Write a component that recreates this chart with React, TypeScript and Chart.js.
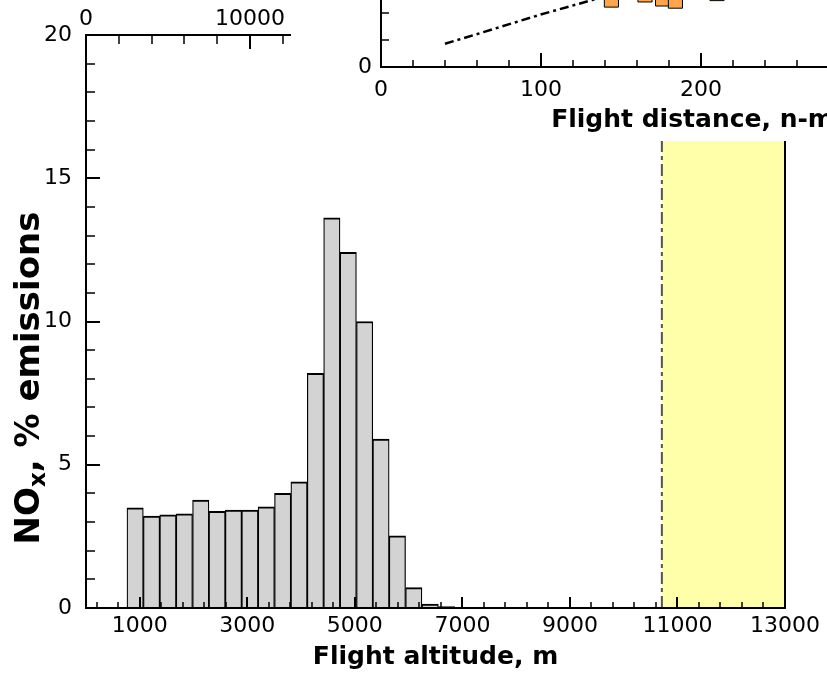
import React, { useEffect, useRef } from "react";
import { Chart, registerables } from "chart.js";
Chart.register(...registerables);

// ---------- main histogram data ----------
// bin centres in metres (1000-ft bins)
const binCentersM = [914, 1219, 1524, 1829, 2134, 2438, 2743, 3048, 3353, 3658, 3962, 4267, 4572, 4877, 5182, 5486, 5791, 6096, 6401, 6706];
const noxShare = [3.5, 3.21, 3.25, 3.29, 3.77, 3.37, 3.42, 3.42, 3.53, 4.0, 4.4, 8.19, 13.62, 12.41, 10.0, 5.9, 2.52, 0.71, 0.14, 0.05];
const cruiseBand = [10710, 13000];
const cruiseTop = 20;

// axis ticks (main)
const xMajor = [1000, 3000, 5000, 7000, 9000, 11000, 13000];
const xMinor = [200, 600, 1400, 1800, 2200, 2600, 3400, 3800, 4200, 4600, 5400, 5800, 6200, 6600, 7400, 7800, 8200, 8600, 9400, 9800, 10200, 10600, 11400, 11800, 12200, 12600];
const yMajor = [0, 5, 10, 15, 20];
const yMinor = [1, 2, 3, 4, 6, 7, 8, 9, 11, 12, 13, 14, 16, 17, 18, 19];
const topMajorFt = [0, 10000, 20000, 30000, 40000];
const topMinorFt = [2000, 4000, 6000, 8000, 12000, 14000, 16000, 18000, 22000, 24000, 26000, 28000, 32000, 34000, 36000, 38000, 42000];

// ---------- inset data ----------
const distLineX = [40, 64, 99, 132, 165];
const distLineY = [0.86, 1.29, 1.93, 2.48, 3.0];
const squaresX = [144, 165, 176, 184, 210];
const squaresY = [2.48, 2.67, 2.52, 2.44, 2.72];
const insetXMajor = [0, 100, 200, 300, 400];
const insetXMinor = [20, 40, 60, 80, 120, 140, 160, 180, 220, 240, 260, 280, 320, 340, 360, 380];
const insetYMajor = [0, 5];
const insetYMinor = [1, 2, 3, 4, 6, 7];

const FAMILY = "'DejaVu Sans', sans-serif";
const tickFont = { family: FAMILY, size: 22, lineHeight: 1.2 };
const titleFont = { family: FAMILY, size: 25, weight: "bold" as const, lineHeight: 1.2 };

type Spec = { scale: string; side: string; major: number[]; minor: number[]; majorLen: number; minorLen: number };

function tickPlugin(specs: Spec[]) {
  return {
    id: "tickMarks",
    afterDatasetsDraw(chart: any) {
      const ctx = chart.ctx;
      const a = chart.chartArea;
      ctx.save();
      ctx.strokeStyle = "#000";
      for (const s of specs) {
        const sc = chart.scales[s.scale];
        const groups: [number[], number, number][] = [
          [s.major, s.majorLen, 2],
          [s.minor, s.minorLen, 1.5],
        ];
        for (const [vals, len, w] of groups) {
          ctx.lineWidth = w;
          for (const v of vals) {
            const p = Math.round(sc.getPixelForValue(v));
            ctx.beginPath();
            if (s.side === "bottom") {
              ctx.moveTo(p, a.bottom);
              ctx.lineTo(p, a.bottom - len);
            } else if (s.side === "top") {
              ctx.moveTo(p, a.top);
              ctx.lineTo(p, a.top + len);
            } else if (s.side === "left") {
              ctx.moveTo(a.left, p);
              ctx.lineTo(a.left + len, p);
            }
            ctx.stroke();
          }
        }
      }
      ctx.restore();
    },
  };
}

const yTitlePlugin = {
  id: "yTitle",
  afterDraw(chart: any) {
    const ctx = chart.ctx;
    ctx.save();
    ctx.translate(27, 378);
    ctx.rotate(-Math.PI / 2);
    ctx.fillStyle = "#000";
    ctx.textBaseline = "alphabetic";
    const big = `bold 34px ${FAMILY}`;
    const small = `bold 23px ${FAMILY}`;
    ctx.font = big;
    const w1 = ctx.measureText("NO").width;
    const w3 = ctx.measureText(", % emissions").width;
    ctx.font = small;
    const w2 = ctx.measureText("x").width;
    let x = -(w1 + w2 + w3) / 2;
    const base = 12;
    ctx.font = big;
    ctx.fillText("NO", x, base);
    x += w1;
    ctx.font = small;
    ctx.fillText("x", x, base + 6);
    x += w2;
    ctx.font = big;
    ctx.fillText(", % emissions", x, base);
    ctx.restore();
  },
};

function mainConfig(): any {
  return {
    type: "bar",
    data: {
      datasets: [
        {
          type: "line",
          data: cruiseBand.map((x) => ({ x, y: cruiseTop })),
          fill: "origin",
          backgroundColor: "#FFFFAA",
          borderWidth: 0,
          pointRadius: 0,
          order: 3,
        },
        {
          type: "line",
          data: [
            { x: cruiseBand[0], y: 0 },
            { x: cruiseBand[0], y: cruiseTop },
          ],
          borderColor: "#55554a",
          borderWidth: 2,
          borderDash: [12, 4, 4, 4],
          pointRadius: 0,
          fill: false,
          order: 2,
        },
        {
          type: "bar",
          data: binCentersM.map((x, i) => ({ x, y: noxShare[i] })),
          backgroundColor: "#D3D3D3",
          borderColor: "#000",
          borderWidth: { top: 2, left: 1.25, right: 1.25, bottom: 0 },
          borderSkipped: "start",
          barPercentage: 1,
          categoryPercentage: 1,
          order: 1,
        },
      ],
    },
    options: {
      responsive: false,
      animation: false,
      events: [],
      layout: { padding: { left: 0, right: 42, top: 0, bottom: 0 } },
      plugins: { legend: { display: false }, tooltip: { enabled: false } },
      scales: {
        x: {
          type: "linear",
          position: "bottom",
          min: 0,
          max: 13000,
          offset: false,
          afterBuildTicks: (s: any) => {
            s.ticks = xMajor.map((value) => ({ value }));
          },
          afterFit: (s: any) => {
            s.height = 70;
          },
          ticks: { font: tickFont, color: "#000", padding: 5, autoSkip: false, maxRotation: 0, minRotation: 0, callback: (v: any) => String(v) },
          grid: { display: false, drawTicks: false, offset: false },
          border: { display: true, color: "#000", width: 2, z: 1 },
          title: { display: true, text: "Flight altitude, m", color: "#000", font: titleFont, padding: { top: 0, bottom: 6 } },
        },
        x2: {
          type: "linear",
          position: "top",
          min: 0,
          max: 42651,
          offset: false,
          afterBuildTicks: (s: any) => {
            s.ticks = topMajorFt.map((value) => ({ value }));
          },
          afterFit: (s: any) => {
            s.height = 35;
          },
          ticks: { font: tickFont, color: "#000", padding: 3, autoSkip: false, maxRotation: 0, minRotation: 0, callback: (v: any) => String(v) },
          grid: { display: false, drawTicks: false, offset: false },
          border: { display: true, color: "#000", width: 2, z: 1 },
        },
        y: {
          type: "linear",
          position: "left",
          min: 0,
          max: 20,
          afterBuildTicks: (s: any) => {
            s.ticks = yMajor.map((value) => ({ value }));
          },
          afterFit: (s: any) => {
            s.width = 86;
          },
          ticks: { font: tickFont, color: "#000", padding: 14, callback: (v: any) => String(v) },
          grid: { display: false, drawTicks: false },
          border: { display: true, color: "#000", width: 2, z: 1 },
        },
        y2: {
          type: "linear",
          position: "right",
          display: true,
          min: 0,
          max: 20,
          afterFit: (s: any) => {
            s.width = 0;
          },
          ticks: { display: false },
          grid: { display: false, drawTicks: false },
          border: { display: true, color: "#000", width: 2, z: 1 },
        },
      },
    },
    plugins: [
      tickPlugin([
        { scale: "x", side: "bottom", major: xMajor, minor: xMinor, majorLen: 11, minorLen: 6 },
        { scale: "x2", side: "top", major: topMajorFt, minor: topMinorFt, majorLen: 14, minorLen: 9 },
        { scale: "y", side: "left", major: yMajor, minor: yMinor, majorLen: 14, minorLen: 9 },
      ]),
      yTitlePlugin,
    ],
  };
}

function insetConfig(): any {
  return {
    type: "scatter",
    data: {
      datasets: [
        {
          type: "line",
          data: distLineX.map((x, i) => ({ x, y: distLineY[i] })),
          borderColor: "#000",
          borderWidth: 2.5,
          borderDash: [9, 4, 3, 4],
          pointRadius: 0,
          fill: false,
          tension: 0,
        },
        {
          type: "scatter",
          data: squaresX.map((x, i) => ({ x, y: squaresY[i] })),
          pointStyle: "rect",
          pointRadius: 10,
          backgroundColor: "#FFA64D",
          borderColor: "#000",
          borderWidth: 1,
        },
      ],
    },
    options: {
      responsive: false,
      animation: false,
      events: [],
      layout: { padding: { left: 0, right: 18, top: 51, bottom: 0 } },
      plugins: { legend: { display: false }, tooltip: { enabled: false } },
      scales: {
        x: {
          type: "linear",
          position: "bottom",
          min: 0,
          max: 420,
          afterBuildTicks: (s: any) => {
            s.ticks = insetXMajor.map((value) => ({ value }));
          },
          afterFit: (s: any) => {
            s.height = 74;
          },
          ticks: { font: tickFont, color: "#000", padding: 10, autoSkip: false, maxRotation: 0, minRotation: 0, callback: (v: any) => String(v) },
          grid: { display: false, drawTicks: false },
          border: { display: true, color: "#000", width: 2, z: 1 },
          title: { display: true, text: "Flight distance, n-miles", color: "#000", font: titleFont, padding: { top: 0, bottom: 6 } },
        },
        y: {
          type: "linear",
          position: "left",
          min: 0,
          max: 8,
          afterBuildTicks: (s: any) => {
            s.ticks = insetYMajor.map((value) => ({ value }));
          },
          afterFit: (s: any) => {
            s.width = 90;
          },
          ticks: { font: tickFont, color: "#000", padding: 9, callback: (v: any) => String(v) },
          grid: { display: false, drawTicks: false },
          border: { display: true, color: "#000", width: 2, z: 1 },
        },
      },
    },
    plugins: [
      tickPlugin([
        { scale: "x", side: "bottom", major: insetXMajor, minor: insetXMinor, majorLen: 14, minorLen: 7 },
        { scale: "y", side: "left", major: insetYMajor, minor: insetYMinor, majorLen: 14, minorLen: 8 },
      ]),
    ],
  };
}

export default function App() {
  const mainRef = useRef<HTMLCanvasElement>(null);
  const insetRef = useRef<HTMLCanvasElement>(null);
  useEffect(() => {
    const main = new Chart(mainRef.current as HTMLCanvasElement, mainConfig());
    const inset = new Chart(insetRef.current as HTMLCanvasElement, insetConfig());
    return () => {
      main.destroy();
      inset.destroy();
    };
  }, []);
  return (
    <div style={{ position: "fixed", left: 0, top: 0, width: 827, height: 678, overflow: "hidden", background: "#fff" }}>
      <canvas ref={mainRef} width={827} height={678} style={{ position: "absolute", left: 0, top: 0, width: 827, height: 678 }} />
      <canvas ref={insetRef} width={780} height={341} style={{ position: "absolute", left: 291, top: -200, width: 780, height: 341, background: "#fff" }} />
    </div>
  );
}
